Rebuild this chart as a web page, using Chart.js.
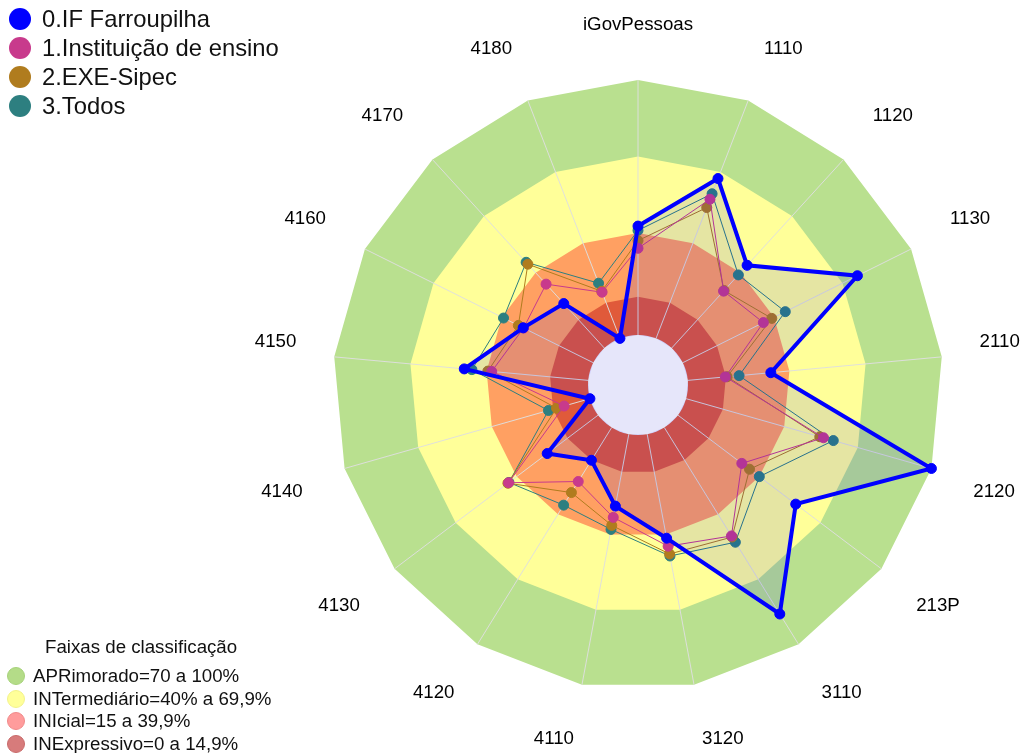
<!DOCTYPE html>
<html>
<head>
<meta charset="utf-8">
<script src="https://cdn.jsdelivr.net/npm/chart.js@4/dist/chart.umd.min.js"></script>
<style>
html,body{margin:0;padding:0;background:#fff;}
#wrap{position:relative;width:1022px;height:753px;overflow:hidden;}
#c{position:absolute;left:0;top:0;}
.lg{position:absolute;font-family:'Liberation Sans',Arial,sans-serif;color:#111;white-space:nowrap;}
.row{display:flex;align-items:center;}
.dot{border-radius:50%;box-sizing:border-box;flex:none;}
</style>
</head>
<body>
<div id="wrap">
  <canvas id="c" width="1022" height="753"></canvas>
  <div id="legTop" class="lg"></div>
  <div id="legBands" class="lg"></div>
</div>
<script>
// ---- data ----
const categories = ['iGovPessoas','1110','1120','1130','2110','2120','213P','3110','3120','4110','4120','4130','4140','4150','4160','4170','4180'];

const seriesNames = ['0.IF Farroupilha','1.Instituição de ensino','2.EXE-Sipec','3.Todos'];
const seriesColors = ['#0000FF','#C83A8C','#B07C1E','#2D7F80'];

const ifFarroupilha     = [42.7, 67.2, 43.9, 76.5, 32.7, 100, 57.9, 86.0, 41.5, 28.7, 15.1, 25.0,  0.0, 48.8, 30.7, 23.6,  0.0];
const instituicaoEnsino = [34.0, 58.5, 30.2, 35.3, 14.8, 56.0, 31.4, 50.0, 44.7, 33.2, 24.9, 44.0, 10.5, 38.0, 30.5, 33.9, 19.4];
const exeSipec          = [37.0, 55.0, 30.5, 39.0, 15.5, 54.5, 35.2, 50.5, 47.8, 36.4, 30.0, 44.3, 13.6, 39.5, 32.8, 44.5, 19.8];
const todos             = [41.0, 60.8, 38.8, 44.9, 20.2, 60.0, 40.0, 52.9, 48.6, 38.0, 35.8, 43.8, 16.9, 45.8, 39.3, 45.5, 23.2];

const bandTitle = 'Faixas de classificação';
const bandNames = ['APRimorado=70 a 100%','INTermediário=40% a 69,9%','INIcial=15 a 39,9%','INExpressivo=0 a 14,9%'];
const bandUpper = [100, 70, 40, 15];
const bandFill  = ['#B9E08F','#FFFF99','#FFA062','#E05A3A'];
const bandLegendColors = ['#B4DC88','#FFFF99','#FF9C9C','#D77B7B'];
const bandLegendBorders = ['#A6D27A','#F2F28A','#F08A8A','#C86A6A'];

// ---- legends (HTML text) ----
const legTop = document.getElementById('legTop');
legTop.style.left = '9px'; legTop.style.top = '4px';
seriesNames.forEach((n, k) => {
  const r = document.createElement('div'); r.className = 'row'; r.style.height = '29px';
  const d = document.createElement('div'); d.className = 'dot';
  d.style.width = '22px'; d.style.height = '22px'; d.style.background = seriesColors[k];
  const t = document.createElement('span'); t.textContent = n;
  t.style.fontSize = '23.8px'; t.style.marginLeft = '11px'; t.style.lineHeight = '29px';
  r.appendChild(d); r.appendChild(t); legTop.appendChild(r);
});
const legBands = document.getElementById('legBands');
legBands.style.left = '7px'; legBands.style.top = '635px';
const tt = document.createElement('div'); tt.textContent = bandTitle;
tt.style.fontSize = '18.7px'; tt.style.lineHeight = '23px'; tt.style.marginLeft = '38px'; tt.style.marginBottom = '7px';
legBands.appendChild(tt);
bandNames.forEach((n, j) => {
  const r = document.createElement('div'); r.className = 'row'; r.style.height = '22.6px';
  const d = document.createElement('div'); d.className = 'dot';
  d.style.width = '18px'; d.style.height = '18px'; d.style.background = bandLegendColors[j];
  d.style.border = '1px solid ' + bandLegendBorders[j];
  const t = document.createElement('span'); t.textContent = n;
  t.style.fontSize = '18.7px'; t.style.marginLeft = '8px'; t.style.lineHeight = '22.6px';
  r.appendChild(d); r.appendChild(t); legBands.appendChild(r);
});

// ---- datasets ----
const seriesData = [ifFarroupilha, instituicaoEnsino, exeSipec, todos];
const datasets = [];
seriesData.forEach((arr, k) => {
  datasets.push({
    label: seriesNames[k],
    data: arr,
    borderColor: seriesColors[k],
    backgroundColor: k === 0 ? 'rgba(0,0,255,0.10)' : seriesColors[k],
    pointBackgroundColor: seriesColors[k],
    pointBorderColor: seriesColors[k],
    pointBorderWidth: 1,
    pointRadius: 5,
    borderWidth: k === 0 ? 4 : 1,
    fill: k === 0 ? 'origin' : false,
    tension: 0,
    order: 0
  });
});
bandUpper.forEach((v, j) => {
  datasets.push({
    label: bandNames[j],
    data: categories.map(() => v),
    backgroundColor: bandFill[j],
    borderColor: 'rgba(0,0,0,0)',
    borderWidth: 0,
    pointRadius: 0,
    fill: 'origin',
    order: bandUpper.length - j
  });
});
const LAST_BAND = seriesData.length + bandUpper.length - 1;

// spokes and inner hole drawn over the bands, under the series
const bandOverlay = {
  id: 'bandOverlay',
  afterDatasetDraw(chart, args) {
    if (args.index !== LAST_BAND) return;
    const s = chart.scales.r, ctx = chart.ctx;
    ctx.save();
    ctx.strokeStyle = 'rgba(222,222,222,0.95)';
    ctx.lineWidth = 1;
    for (let i = 0; i < categories.length; i++) {
      const a = s.getPointPositionForValue(i, 0);
      const b = s.getPointPositionForValue(i, 100);
      ctx.beginPath(); ctx.moveTo(a.x, a.y); ctx.lineTo(b.x, b.y); ctx.stroke();
    }
    const r0 = s.getDistanceFromCenterForValue(0);
    ctx.fillStyle = '#E6E6FA';
    ctx.beginPath(); ctx.arc(s.xCenter, s.yCenter, r0, 0, Math.PI * 2); ctx.fill();
    ctx.restore();
  }
};

new Chart(document.getElementById('c'), {
  type: 'radar',
  data: { labels: categories, datasets: datasets },
  plugins: [bandOverlay],
  options: {
    responsive: false,
    animation: false,
    events: [],
    devicePixelRatio: 1,
    layout: { padding: { left: 254, right: 0, top: 11, bottom: 0 } },
    plugins: { legend: { display: false }, tooltip: { enabled: false }, title: { display: false } },
    elements: { line: { tension: 0 } },
    scales: {
      r: {
        min: -19.6,
        max: 100,
        startAngle: 0,
        ticks: { display: false },
        grid: { display: false },
        angleLines: { display: false },
        pointLabels: {
          display: true,
          color: '#000',
          font: { family: "'Liberation Sans', Arial, sans-serif", size: 18.7 },
          padding: (ctx) => (ctx.index === 4 || ctx.index === 13) ? 38 : 43.5
        }
      }
    }
  }
});
</script>
</body>
</html>
